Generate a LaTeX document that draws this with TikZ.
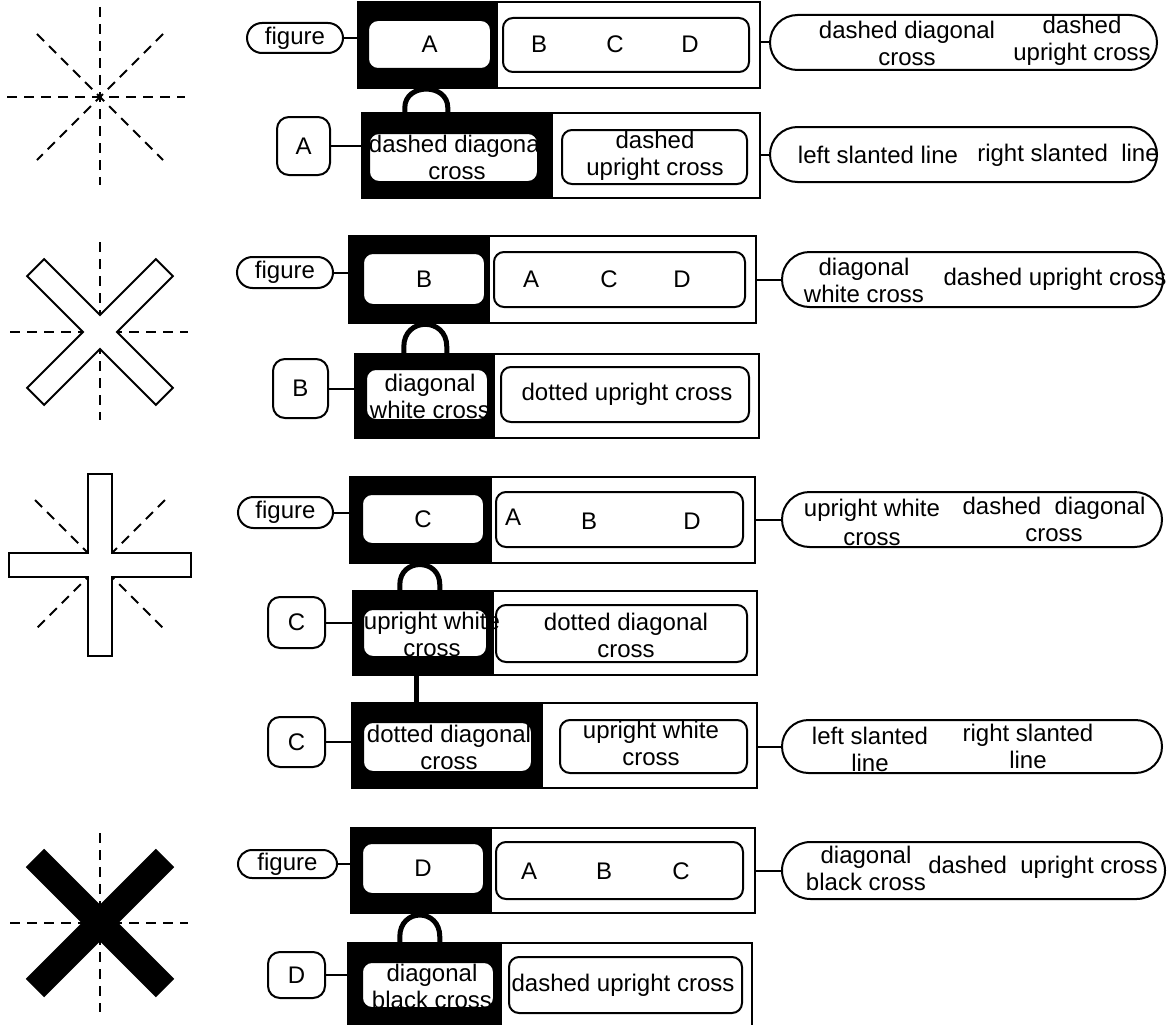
\documentclass[tikz,border=0pt]{standalone}
\usepackage{fontspec}
\setmainfont{Liberation Sans}
\usetikzlibrary{shapes.misc}
\newcommand{\armcross}[3]{%
  \draw[line width=2pt, fill=#3, shift={#1}, rotate=#2]
    (12,12) -- (91,12) -- (91,-12) -- (12,-12) -- (12,-91) -- (-12,-91)
    -- (-12,-12) -- (-91,-12) -- (-91,12) -- (-12,12) -- (-12,91) -- (12,91) -- cycle;}

\begin{document}
\begin{tikzpicture}[x=1pt,y=-1pt,
  wh/.style 2 args={minimum width=#1pt, minimum height=#2pt},
  frame/.style={draw, line width=2pt, inner sep=0pt},
  darkpart/.style={fill=black, inner sep=0pt},
  card/.style={draw, fill=white, line width=2pt, rounded corners=10pt, inner sep=0pt,
    font=\fontsize{24}{27}\selectfont},
  capsule/.style={draw, fill=white, line width=2pt, rounded rectangle, inner sep=0pt,
    font=\fontsize{24}{27}\selectfont},
  txt/.style={inner sep=0pt, align=center, font=\fontsize{24}{27}\selectfont},
  link/.style={line width=2pt},
  hook/.style={line width=5pt},
  guide/.style={line width=2pt, dash pattern=on 10pt off 7pt}]
  \useasboundingbox (0,0) rectangle (1167,1025);

  % left figures
  \draw[guide] (7,97) -- (185,97);
  \draw[guide] (100,7) -- (100,185);
  \draw[guide] (37,34) -- (163,160);
  \draw[guide] (163,34) -- (37,160);

  \draw[guide] (10,332) -- (188,332);
  \draw[guide] (100,242) -- (100,420);
  \armcross{(100,332)}{45}{white}

  \draw[guide] (35,500) -- (165,630);
  \draw[guide] (165,500) -- (35,630);
  \armcross{(100,565)}{0}{white}

  \draw[guide] (10,923) -- (188,923);
  \draw[guide] (100,833) -- (100,1012);
  \armcross{(100,923)}{45}{black}

  % A
  \node[capsule, wh={96}{30}] (figA) at (295,38) {figure};
  \node[frame, wh={402}{86}] (boxA) at (559,45) {};
  \node[darkpart, wh={140}{86}] (kA) at (428,45) {};
  \node[card, wh={123}{49}] (wA) at (429.5,44.5) {A};
  \node[card, wh={246}{54}] (rA) at (626,45) {};
  \node[txt] (rA1) at (539,44) {B};
  \node[txt] (rA2) at (615,44) {C};
  \node[txt] (rA3) at (690,44) {D};
  \node[capsule, wh={387}{55}] (pillA) at (963.5,42.5) {};
  \node[txt] (pillA1) at (907,43) {dashed diagonal\\cross};
  \node[txt] (pillA2) at (1082,41) {dashed\\upright cross};
  \draw[link] (figA.east) -- (figA.east -| boxA.west);
  \draw[link] (pillA.west -| boxA.east) -- (pillA.west);

  \node[card, rounded corners=12pt, wh={53}{58}] (keyA) at (303.5,146) {A};
  \node[frame, wh={398}{85}] (boxA2) at (561,155.5) {};
  \node[darkpart, wh={191}{85}] (kA2) at (457.5,155.5) {};
  \node[card, wh={169}{49}] (wA2) at (453.5,157.5) {};
  \node[txt] (tA2) at (457,157) {dashed diagonal\\cross};
  \node[card, wh={185}{54}] (rA2) at (654.5,157) {};
  \node[txt] (tA2r) at (655,156) {dashed\\upright cross};
  \node[capsule, wh={387}{55}] (pillA3) at (963.5,154.5) {};
  \node[txt] (pillA4) at (878,155) {left slanted line};
  \node[txt] (pillA5) at (1068,155) {right slanted\ \ line};
  \draw[link] (keyA.east) -- (keyA.east -| boxA2.west);
  \draw[link] (pillA3.west -| boxA2.east) -- (pillA3.west);
  \draw[hook] ([xshift=43pt]kA2.north west) -- ++(0,-5)
    .. controls +(0,-25) and +(0,-25) .. ++(43,0) -- ++(0,5);

  % B
  \node[capsule, wh={96}{31}] (figB) at (285,272.5) {figure};
  \node[frame, wh={407}{87}] (boxB) at (552.5,279.5) {};
  \node[darkpart, wh={141}{87}] (kB) at (419.5,279.5) {};
  \node[card, wh={122}{52}] (wB) at (424,279) {B};
  \node[card, wh={251}{55}] (rB) at (619.5,279.5) {};
  \node[txt] (rB1) at (531,279) {A};
  \node[txt] (rB2) at (609,279) {C};
  \node[txt] (rB3) at (682,279) {D};
  \node[capsule, wh={381}{55}] (pillB) at (972.5,279.5) {};
  \node[txt] (pillB1) at (864,280) {diagonal\\white cross};
  \node[txt] (pillB2) at (1055,279) {dashed upright cross};
  \draw[link] (figB.east) -- (figB.east -| boxB.west);
  \draw[link] (pillB.west -| boxB.east) -- (pillB.west);

  \node[card, rounded corners=12pt, wh={55}{59}] (keyB) at (300.5,388.5) {B};
  \node[frame, wh={404}{84}] (boxB2) at (557,396) {};
  \node[darkpart, wh={140}{84}] (kB2) at (425,396) {};
  \node[card, wh={122}{51}] (wB2) at (427,394.5) {};
  \node[txt] (tB2) at (430,396) {diagonal\\white cross};
  \node[card, wh={248}{55}] (rB2) at (625,394.5) {};
  \node[txt] (tB2r) at (627,394) {dotted upright cross};
  \draw[link] (keyB.east) -- (keyB.east -| boxB2.west);
  \draw[hook] ([xshift=49pt]kB2.north west) -- ++(0,-7)
    .. controls +(0,-30) and +(0,-30) .. ++(43,0) -- ++(0,7);

  % C
  \node[capsule, wh={95}{31}] (figC) at (285.5,512.5) {figure};
  \node[frame, wh={405}{86}] (boxC) at (552.5,520) {};
  \node[darkpart, wh={142}{86}] (kC) at (421,520) {};
  \node[card, wh={122}{50}] (wC) at (423,519) {C};
  \node[card, wh={247}{55}] (rC) at (619.5,519.5) {};
  \node[txt] (rC1) at (513,517) {A};
  \node[txt] (rC2) at (589,521) {B};
  \node[txt] (rC3) at (692,521) {D};
  \node[capsule, wh={380}{55}] (pillC) at (972,519.5) {};
  \node[txt, font=\fontsize{24}{29}\selectfont] (pillC1) at (872,522) {upright white\\cross};
  \node[txt] (pillC2) at (1054,519) {dashed\ \ diagonal\\cross};
  \draw[link] (figC.east) -- (figC.east -| boxC.west);
  \draw[link] (pillC.west -| boxC.east) -- (pillC.west);

  \node[card, rounded corners=12pt, wh={57}{51}] (keyC) at (296.5,622.5) {C};
  \node[frame, wh={404}{84}] (boxC2) at (555,633) {};
  \node[darkpart, wh={141}{84}] (kC2) at (423.5,633) {};
  \node[card, wh={124}{48}] (wC2) at (425,633) {};
  \node[card, wh={251}{57}] (rC2) at (621.5,633.5) {};
  \node[txt] (tC2) at (432,634) {upright white\\cross};
  \node[txt] (tC2r) at (626,635) {dotted diagonal\\cross};
  \draw[link] (keyC.east) -- (keyC.east -| boxC2.west);
  \draw[hook] ([xshift=47pt]kC2.north west) -- ++(0,-6)
    .. controls +(0,-27) and +(0,-27) .. ++(40,0) -- ++(0,6);

  \node[card, rounded corners=12pt, wh={57}{50}] (keyC3) at (296.5,742) {C};
  \node[frame, wh={405}{85}] (boxC3) at (554.5,745.5) {};
  \node[darkpart, wh={191}{85}] (kC3) at (447.5,745.5) {};
  \node[card, wh={169}{50}] (wC3) at (447.5,747) {};
  \node[txt] (tC3) at (449,747) {dotted diagonal\\cross};
  \node[card, wh={187}{53}] (rC3) at (653.5,746.5) {};
  \node[txt] (tC3r) at (651,743) {upright white\\cross};
  \node[capsule, wh={380}{53}] (pillC3) at (972,746.5) {};
  \node[txt] (pillC4) at (870,749) {left slanted\\line};
  \node[txt] (pillC5) at (1028,746) {right slanted\\line};
  \draw[link] (keyC3.east) -- (keyC3.east -| boxC3.west);
  \draw[link] (pillC3.west -| boxC3.east) -- (pillC3.west);
  \coordinate (lnkC) at ([xshift=65pt]kC3.north west);
  \draw[hook] (lnkC) -- (lnkC |- kC2.south);

  % D
  \node[capsule, wh={99}{28}] (figD) at (287.5,864) {figure};
  \node[frame, wh={404}{85}] (boxD) at (553,870.5) {};
  \node[darkpart, wh={141}{85}] (kD) at (421.5,870.5) {};
  \node[card, wh={122}{51}] (wD) at (423,868.5) {D};
  \node[card, wh={247}{57}] (rD) at (619.5,870.5) {};
  \node[txt] (rD1) at (529,871) {A};
  \node[txt] (rD2) at (604,871) {B};
  \node[txt] (rD3) at (681,871) {C};
  \node[capsule, wh={383}{57}] (pillD) at (973.5,870.5) {};
  \node[txt] (pillD1) at (866,868) {diagonal\\black cross};
  \node[txt] (pillD2) at (1043,867) {dashed\ \ upright cross};
  \draw[link] (figD.east) -- (figD.east -| boxD.west);
  \draw[link] (pillD.west -| boxD.east) -- (pillD.west);

  \node[card, rounded corners=12pt, wh={57}{46}] (keyD) at (296.5,975) {D};
  \node[frame, wh={404}{85}] (boxD2) at (550,985.5) {};
  \node[darkpart, wh={154}{85}] (kD2) at (425,985.5) {};
  \node[card, wh={132}{46}] (wD2) at (428,985) {};
  \node[txt] (tD2) at (432,986) {diagonal\\black cross};
  \node[card, wh={233}{56}] (rD2) at (625.5,985) {};
  \node[txt] (tD2r) at (623,985) {dashed upright cross};
  \draw[link] (keyD.east) -- (keyD.east -| boxD2.west);
  \draw[hook] ([xshift=52pt]kD2.north west) -- ++(0,-6)
    .. controls +(0,-29) and +(0,-29) .. ++(40,0) -- ++(0,6);
\end{tikzpicture}
\end{document}
